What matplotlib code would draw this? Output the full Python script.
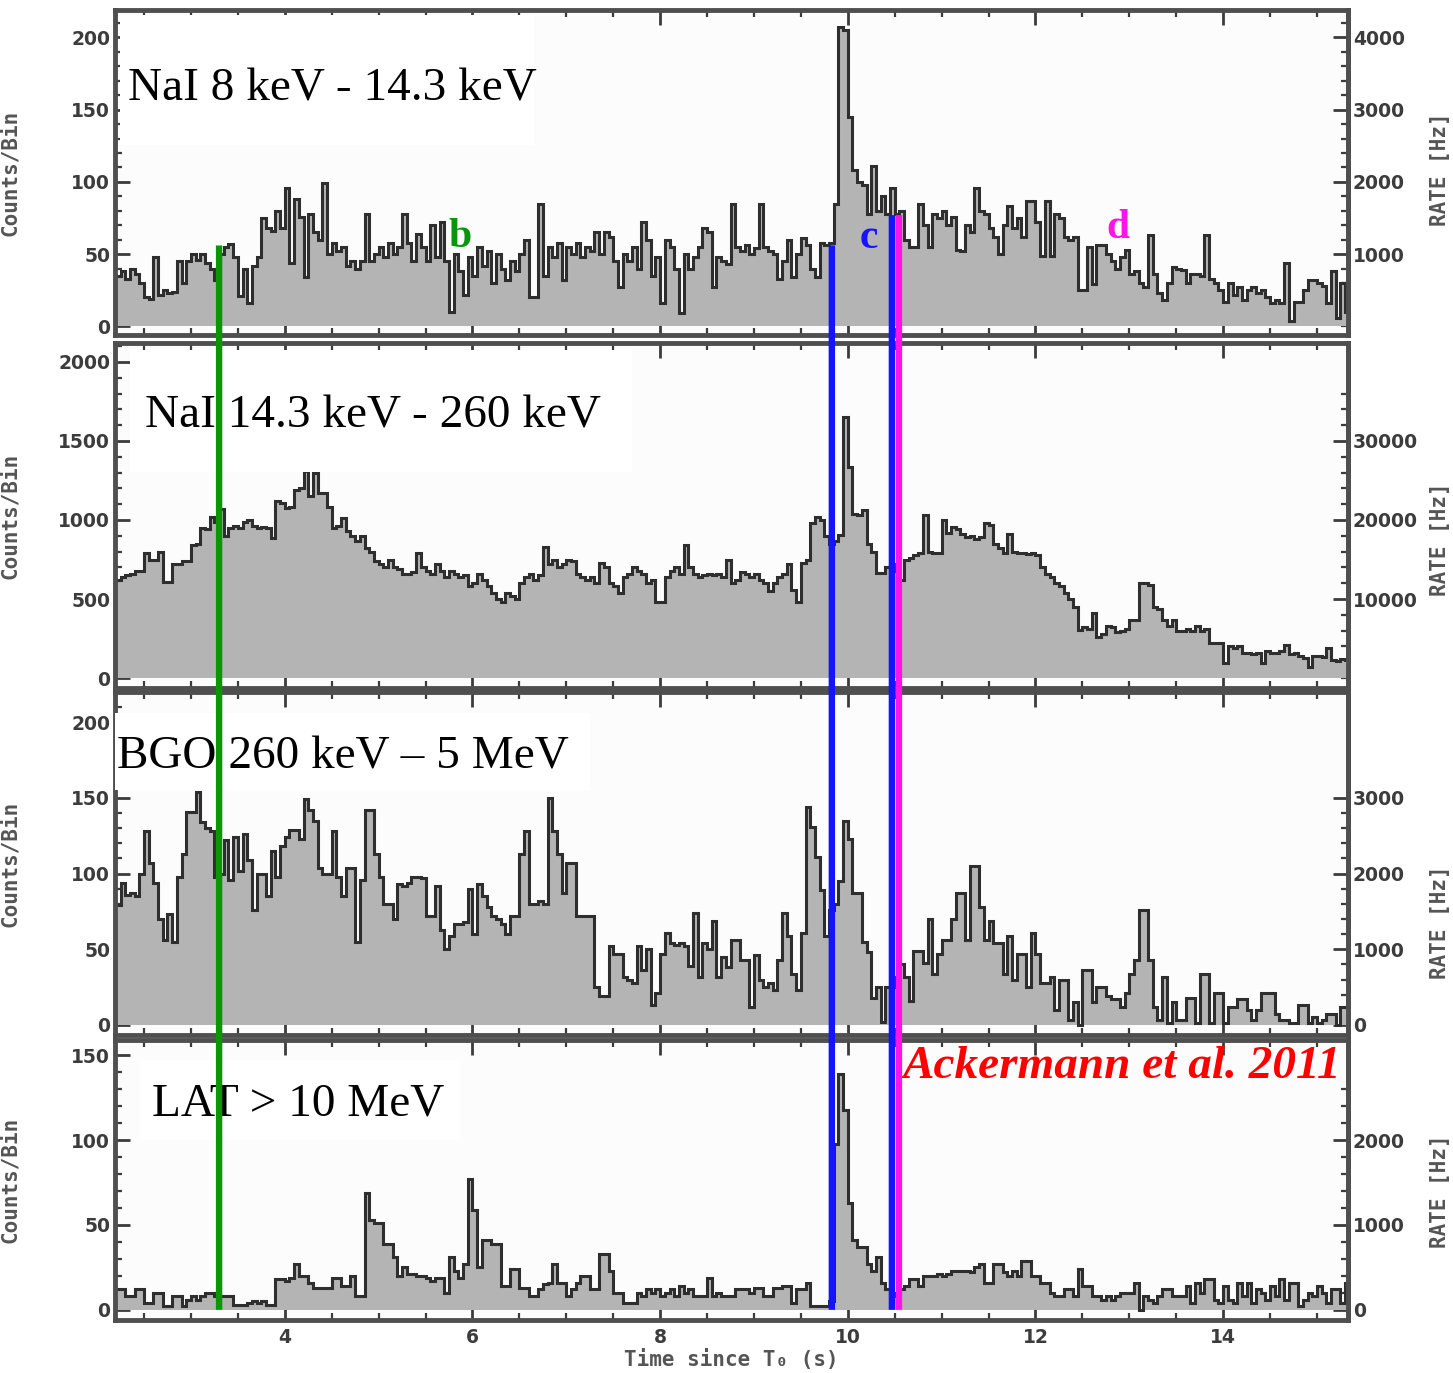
import numpy as np
import matplotlib.pyplot as plt
from matplotlib.ticker import MultipleLocator, FixedLocator
from matplotlib.patches import ConnectionPatch, Rectangle

# light curves in 0.05 s bins starting at T0 + 2.2 s (counts per bin)
t_start = 2.2
bin_width = 0.05

nai_low = [
    35, 38, 33, 40, 36, 30, 20, 19, 48, 22,
    25, 23, 24, 45, 30, 45, 50, 46, 50, 44,
    40, 32, 50, 55, 57, 48, 21, 40, 16, 42,
    48, 75, 68, 66, 80, 68, 96, 44, 88, 76,
    34, 78, 65, 60, 99, 50, 58, 52, 55, 42,
    45, 40, 45, 78, 45, 50, 55, 48, 58, 50,
    55, 78, 58, 45, 64, 55, 45, 70, 48, 72,
    45, 10, 50, 38, 22, 48, 35, 55, 42, 52,
    30, 50, 40, 32, 45, 38, 50, 60, 20, 20,
    85, 35, 55, 48, 58, 32, 55, 50, 58, 48,
    55, 52, 65, 50, 65, 62, 45, 27, 50, 45,
    55, 40, 72, 60, 35, 48, 16, 60, 55, 40,
    9, 50, 40, 48, 55, 68, 65, 27, 48, 45,
    43, 85, 55, 52, 56, 50, 54, 85, 55, 52,
    50, 33, 45, 60, 34, 50, 61, 56, 40, 34,
    58, 56, 58, 85, 207, 205, 145, 108, 100, 98,
    78, 111, 80, 90, 78, 96, 78, 80, 60, 55,
    55, 85, 70, 55, 78, 75, 80, 70, 76, 53,
    52, 70, 65, 96, 80, 78, 68, 62, 50, 70,
    83, 68, 75, 62, 87, 87, 72, 49, 87, 49,
    78, 75, 62, 60, 62, 25, 25, 55, 29, 56,
    56, 50, 45, 40, 48, 53, 36, 38, 30, 27,
    63, 36, 23, 18, 30, 41, 40, 39, 30, 36,
    36, 35, 63, 33, 30, 25, 17, 30, 22, 27,
    18, 25, 27, 23, 25, 20, 16, 18, 16, 44,
    4, 17, 17, 25, 32, 32, 30, 28, 16, 38,
    6, 30, 10,
]

nai_high = [
    620, 640, 650, 660, 680, 680, 790, 750, 750, 795,
    610, 610, 720, 720, 740, 740, 840, 850, 950, 940,
    1020, 990, 1070, 900, 950, 960, 950, 990, 1000, 960,
    950, 955, 950, 885, 1120, 1110, 1075, 1080, 1190, 1200,
    1310, 1150, 1300, 1170, 1170, 1080, 950, 960, 1015, 930,
    900, 870, 900, 820, 800, 740, 720, 700, 750, 700,
    690, 660, 660, 670, 790, 700, 680, 660, 720, 680,
    640, 680, 660, 640, 650, 580, 600, 660, 620, 580,
    540, 500, 480, 540, 520, 500, 600, 640, 660, 620,
    650, 830, 720, 750, 700, 720, 750, 740, 660, 640,
    620, 640, 600, 730, 700, 600, 580, 540, 640, 660,
    700, 680, 660, 600, 620, 480, 480, 640, 680, 700,
    660, 840, 700, 660, 640, 650, 660, 650, 660, 640,
    747, 600, 620, 670, 660, 640, 660, 620, 600, 550,
    600, 640, 660, 720, 560, 480, 730, 750, 981, 1019,
    1000, 900, 850, 870, 905, 1654, 1336, 1040, 1030, 1063,
    850, 800, 663, 663, 705, 720, 680, 620, 750, 760,
    780, 790, 1034, 800, 790, 790, 1000, 920, 955, 940,
    910, 890, 900, 880, 890, 981, 970, 850, 820, 790,
    910, 800, 790, 790, 785, 790, 780, 700, 660, 640,
    600, 580, 540, 500, 450, 304, 320, 310, 410, 260,
    280, 330, 320, 290, 300, 310, 367, 370, 600, 600,
    590, 450, 440, 370, 330, 370, 300, 300, 310, 300,
    330, 300, 310, 221, 221, 220, 95, 200, 190, 200,
    158, 160, 150, 160, 95, 170, 160, 158, 170, 208,
    150, 158, 140, 130, 70, 140, 140, 135, 190, 114,
    110, 120, 114,
]

bgo = [
    79, 94, 86, 87, 85, 100, 128, 107, 94, 70,
    56, 73, 55, 98, 113, 141, 141, 154, 134, 130,
    128, 98, 100, 122, 96, 124, 102, 126, 109, 76,
    100, 100, 85, 115, 98, 118, 124, 129, 129, 123,
    149, 142, 135, 104, 100, 100, 128, 98, 85, 104,
    104, 55, 96, 142, 142, 113, 98, 80, 80, 70,
    93, 92, 94, 98, 98, 97, 72, 72, 92, 63,
    50, 59, 67, 67, 68, 90, 60, 93, 85, 78,
    72, 70, 67, 60, 72, 72, 113, 128, 80, 80,
    82, 80, 150, 128, 113, 87, 107, 107, 72, 72,
    72, 72, 25, 19, 19, 52, 47, 47, 32, 30,
    28, 52, 36, 50, 13, 21, 47, 61, 54, 53,
    54, 52, 39, 74, 32, 54, 50, 69, 32, 45,
    38, 56, 56, 43, 43, 12, 46, 30, 25, 28,
    23, 43, 74, 59, 34, 23, 61, 144, 131, 111,
    89, 59, 76, 80, 95, 135, 123, 87, 87, 55,
    48, 18, 25, 2, 25, 25, 32, 40, 32, 16,
    49, 49, 41, 70, 34, 47, 56, 56, 70, 87,
    87, 56, 105, 105, 78, 56, 69, 54, 54, 34,
    59, 30, 47, 47, 25, 61, 47, 28, 28, 32,
    10, 30, 30, 3, 15, 0, 36, 36, 15, 25,
    25, 19, 17, 17, 12, 21, 34, 43, 76, 76,
    43, 12, 3, 32, 1, 15, 3, 3, 18, 18,
    1, 34, 34, 1, 21, 21, 1, 12, 12, 17,
    17, 10, 3, 10, 21, 21, 21, 7, 3, 3,
    1, 1, 13, 13, 1, 5, 1, 3, 7, 7,
    0, 12, 12,
]

lat = [
    12, 12, 8, 8, 12, 12, 4, 4, 10, 10,
    2, 2, 8, 8, 2, 6, 8, 6, 8, 10,
    10, 8, 8, 8, 8, 3, 3, 3, 4, 5,
    4, 5, 3, 3, 18, 18, 17, 19, 27, 20,
    20, 16, 13, 13, 13, 13, 19, 19, 14, 14,
    20, 8, 8, 69, 53, 51, 51, 39, 39, 31,
    20, 25, 21, 21, 20, 20, 19, 17, 19, 19,
    10, 31, 23, 19, 27, 77, 59, 25, 41, 41,
    39, 39, 14, 14, 24, 24, 13, 13, 8, 8,
    12, 15, 16, 27, 16, 16, 8, 12, 16, 20,
    20, 12, 12, 33, 33, 23, 10, 10, 4, 4,
    4, 10, 8, 12, 10, 12, 8, 10, 12, 8,
    14, 10, 12, 8, 8, 8, 19, 8, 10, 8,
    8, 8, 12, 12, 12, 10, 13, 13, 8, 8,
    13, 13, 14, 14, 4, 12, 12, 16, 2, 2,
    2, 2, 5, 98, 139, 118, 63, 41, 37, 37,
    27, 23, 31, 16, 12, 10, 8, 12, 14, 18,
    18, 14, 20, 20, 20, 21, 20, 21, 23, 23,
    23, 23, 22, 25, 27, 16, 16, 27, 27, 22,
    20, 23, 20, 29, 29, 20, 20, 16, 16, 10,
    8, 8, 12, 12, 8, 24, 14, 14, 8, 8,
    6, 8, 6, 8, 10, 10, 10, 16, 0, 8,
    6, 4, 8, 12, 12, 8, 8, 8, 14, 4,
    16, 10, 18, 18, 6, 4, 14, 6, 4, 16,
    8, 16, 4, 12, 10, 6, 14, 8, 18, 6,
    16, 16, 2, 6, 10, 8, 14, 10, 4, 12,
    12, 4, 16,
]

panel_labels = ["NaI 8 keV - 14.3 keV", "NaI 14.3 keV - 260 keV",
                "BGO 260 keV \u2013 5 MeV", "LAT > 10 MeV"]

# interval markers: time, top of line (counts in first panel)
marker_times = [3.30, 9.83, 10.47, 10.545]
marker_tops = [56, 56, 77, 77]
marker_colors = ["#0a960a", "#1414ff", "#1414ff", "#ff14e6"]

interval_names = ["b", "c", "d"]
interval_t = [5.74, 10.13, 12.76]
interval_y = [55, 54, 61]
interval_colors = ["#0a960a", "#1414ff", "#ff14e6"]

series = [nai_low, nai_high, bgo, lat]
rate_per_count = 1 / bin_width

# layout / style per panel
rects = [[0.0791, 0.756, 0.8486, 0.2367],
         [0.0791, 0.4989, 0.8486, 0.2513],
         [0.0791, 0.2462, 0.8486, 0.2498],
         [0.0791, 0.0386, 0.8486, 0.2039]]
ylims = [(-6, 219), (-63, 2120), (-6.6, 220), (-6, 159)]
left_major = [50, 500, 50, 50]
left_minor = [10, 100, 10, 10]
right_ticks = [[1000, 2000, 3000, 4000], [10000, 20000, 30000],
               [0, 1000, 2000, 3000], [0, 1000, 2000]]
right_minor = [(200, 4400), (2000, 36000), (200, 3000), (200, 2600)]
label_pos = [(0.0105, 0.723), (0.0243, 0.754), (0.0016, 0.778), (0.030, 0.729)]
label_boxes = [(0.004, 0.585, 0.336, 0.40), (0.012, 0.626, 0.407, 0.354),
               (0.0, 0.714, 0.385, 0.226), (0.02, 0.643, 0.26, 0.287)]
rate_label_y = [0.51, 0.43, 0.33, 0.46]

frame_col = "#4f4f4f"
tick_col = "#3c3c3c"
fill_col = "#b4b4b4"
line_col = "#2e2e2e"
axis_font = dict(family="DejaVu Sans Mono", fontweight="bold", fontsize=15,
                 color="#555555")

plt.rcParams['font.family'] = 'DejaVu Sans'
fig = plt.figure(figsize=(14.53, 13.73), dpi=100)

axes = []
for i, vals in enumerate(series):
    ax = fig.add_axes(rects[i])
    ax.set_facecolor("#fcfcfc")
    edges = t_start + bin_width * np.arange(len(vals) + 1)
    ax.stairs(vals, edges, fill=True, color=fill_col, baseline=0, zorder=2)
    ax.stairs(vals, edges, baseline=None, color=line_col, lw=2.2, zorder=2.2)
    ax.set_xlim(2.19, 15.33)
    ax.set_ylim(*ylims[i])

    ax.xaxis.set_major_locator(MultipleLocator(2))
    ax.xaxis.set_minor_locator(MultipleLocator(0.5))
    ax.yaxis.set_major_locator(MultipleLocator(left_major[i]))
    ax.yaxis.set_minor_locator(MultipleLocator(left_minor[i]))
    ax.tick_params(axis='both', which='both', direction='in', colors=tick_col,
                   top=True, right=False, labelsize=13.5)
    ax.tick_params(axis='both', which='major', length=11, width=2)
    ax.tick_params(axis='both', which='minor', length=5, width=1.6)
    ax.tick_params(axis='x', labelbottom=(i == 3), pad=6)
    for lab in ax.get_xticklabels() + ax.get_yticklabels():
        lab.set_fontweight('bold')
    for sp in ax.spines.values():
        sp.set_color(frame_col)
        sp.set_linewidth(3.5)

    ax.set_ylabel("Counts/Bin", **axis_font)
    ax.yaxis.set_label_coords(-0.077, 0.5)

    sec = ax.secondary_yaxis('right', functions=(lambda c: c * rate_per_count,
                                                 lambda r: r / rate_per_count))
    sec.yaxis.set_major_locator(FixedLocator(right_ticks[i]))
    step, top = right_minor[i]
    sec.yaxis.set_minor_locator(FixedLocator(np.arange(0, top + 1, step)))
    sec.tick_params(which='both', direction='in', colors=tick_col, labelsize=13.5)
    sec.tick_params(which='major', length=11, width=2)
    sec.tick_params(which='minor', length=5, width=1.6)
    for lab in sec.get_yticklabels():
        lab.set_fontweight('bold')
    sec.spines['right'].set_color(frame_col)
    sec.spines['right'].set_linewidth(3.5)
    ax.text(1.075, rate_label_y[i], "RATE [Hz]", transform=ax.transAxes,
            rotation=90, ha="center", va="center", **axis_font)

    bx, by, bw, bh = label_boxes[i]
    ax.add_patch(Rectangle((bx, by), bw, bh, transform=ax.transAxes,
                           facecolor="white", edgecolor="none", zorder=3))
    ax.text(label_pos[i][0], label_pos[i][1], panel_labels[i], transform=ax.transAxes,
            family="Liberation Serif", fontsize=34, ha="left", va="baseline", zorder=4)
    axes.append(ax)

axes[3].set_xlabel("Time since T\u2080 (s)", labelpad=1, **axis_font)

# interval letters
for name, t, y, col in zip(interval_names, interval_t, interval_y, interval_colors):
    axes[0].text(t, y, name, color=col, family="Liberation Serif", fontweight="bold",
                 fontsize=30, ha="left", va="baseline", zorder=5, clip_on=False)

axes[3].text(10.58, 136.5, "Ackermann et al. 2011", color="#ff0000",
             family="Liberation Serif", fontweight="bold", style="italic",
             fontsize=34, ha="left", va="baseline", zorder=5)

# vertical interval lines crossing all panels
for t, top, col in zip(marker_times, marker_tops, marker_colors):
    con = ConnectionPatch(xyA=(t, top), coordsA=axes[0].transData,
                          xyB=(t, 0), coordsB=axes[3].transData,
                          color=col, lw=4.6, capstyle="butt")
    fig.add_artist(con)

fig.savefig("out.png", dpi=100)
